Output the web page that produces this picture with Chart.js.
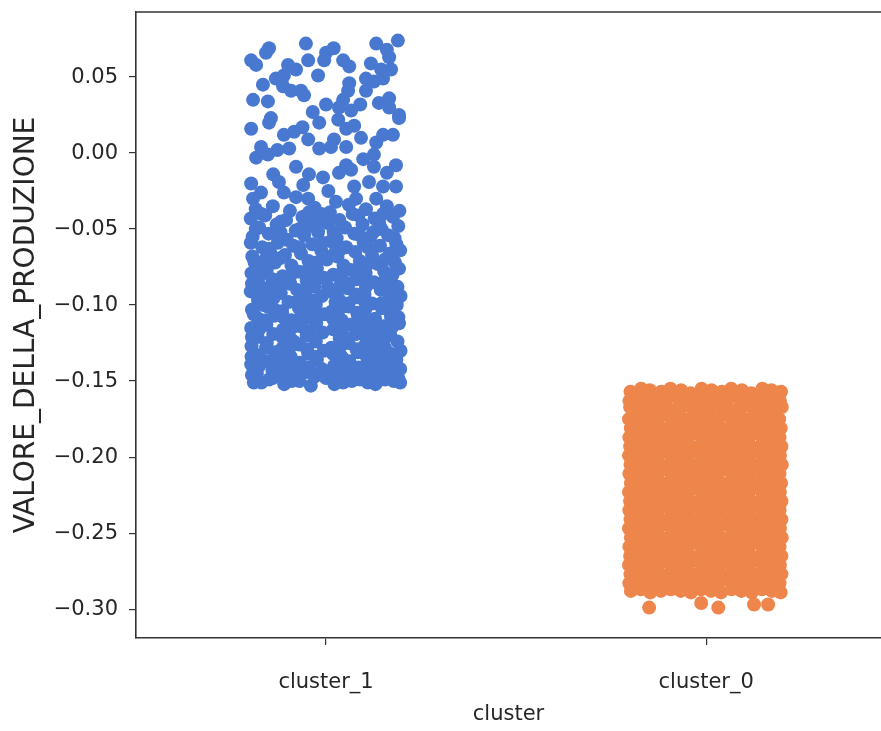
<!DOCTYPE html>
<html>
<head>
<meta charset="utf-8">
<script src="https://cdn.jsdelivr.net/npm/chart.js@4.4.1/dist/chart.umd.min.js"></script>
<style>
  html, body { margin: 0; padding: 0; background: #fff; }
  canvas { display: block; }
</style>
</head>
<body>
<canvas id="chart" width="881" height="731"></canvas>
<script>
// strip plot: production value per cluster, each point = [jitter, value]
const categories = ['cluster_1', 'cluster_0'];
const yTicks = [-0.30, -0.25, -0.20, -0.15, -0.10, -0.05, 0.00, 0.05];
const seriesColors = ['#4878d0', '#ee854a'];

const cluster1Points = [
  [-0.150, 0.069], [-0.158, 0.066], [-0.197, 0.061], [-0.184, 0.058], [-0.053, 0.072], [-0.047, 0.061], [0.000, 0.066], [-0.005, 0.061],
  [-0.021, 0.051], [-0.079, 0.055], [0.045, 0.061], [0.061, 0.057], [0.132, 0.072], [0.189, 0.074], [0.166, 0.063], [0.118, 0.059],
  [0.145, 0.055], [0.171, 0.055], [0.105, 0.049], [0.126, 0.047], [0.150, 0.049], [-0.166, 0.045], [-0.132, 0.049], [-0.111, 0.051],
  [-0.113, 0.044], [-0.092, 0.041], [-0.066, 0.041], [-0.058, 0.038], [0.061, 0.046], [0.058, 0.041], [0.045, 0.035], [0.105, 0.041],
  [-0.192, 0.035], [-0.153, 0.034], [0.000, 0.032], [0.034, 0.030], [0.066, 0.028], [0.139, 0.033], [0.166, 0.036], [0.166, 0.030],
  [0.192, 0.025], [-0.145, 0.023], [-0.197, 0.016], [-0.150, 0.020], [-0.171, 0.004], [-0.184, -0.003], [-0.153, -0.001], [-0.111, 0.012],
  [-0.084, 0.014], [-0.097, 0.003], [-0.047, 0.009], [-0.018, 0.020], [-0.018, 0.003], [0.013, 0.004], [0.032, 0.022], [0.053, 0.016],
  [0.074, 0.018], [0.053, 0.004], [0.053, -0.008], [0.066, -0.011], [0.034, -0.013], [0.132, 0.007], [0.150, 0.012], [0.176, 0.012],
  [0.192, 0.023], [0.126, -0.001], [0.126, -0.009], [0.184, -0.008], [-0.079, -0.009], [-0.045, -0.014], [-0.008, -0.016], [-0.139, -0.014],
  [-0.124, -0.019], [-0.197, -0.020], [-0.171, -0.026], [-0.192, -0.030], [-0.111, -0.026], [-0.079, -0.029], [-0.047, -0.030], [0.074, -0.022],
  [0.079, -0.030], [0.113, -0.019], [0.150, -0.022], [0.184, -0.022], [0.132, -0.030], [0.026, -0.032], [-0.062, 0.017], [0.092, 0.010],
  [0.098, -0.004], [-0.128, 0.002], [0.160, -0.013], [-0.060, -0.021], [0.006, -0.025], [0.021, 0.009], [-0.035, 0.027], [0.090, 0.032],
  [-0.100, 0.058], [0.020, 0.069], [0.160, 0.068],
  [-0.185, -0.037], [-0.140, -0.035], [-0.095, -0.038], [-0.030, -0.036], [0.010, -0.039], [0.060, -0.034], [0.105, -0.037], [0.160, -0.035], [0.193, -0.038],
  [-0.198, -0.043], [-0.160, -0.041], [-0.118, -0.045], [-0.062, -0.042], [-0.012, -0.040], [0.035, -0.044], [0.085, -0.041], [0.128, -0.043], [0.176, -0.042],
  [-0.176, -0.049], [-0.130, -0.047], [-0.080, -0.051], [-0.043, -0.048], [0.004, -0.046], [0.050, -0.049], [0.096, -0.047], [0.146, -0.050], [0.190, -0.048],
  [-0.193, -0.055], [-0.151, -0.053], [-0.103, -0.057], [-0.058, -0.054], [-0.021, -0.052], [0.028, -0.056], [0.074, -0.053], [0.117, -0.055], [0.163, -0.054],
  [-0.198, -0.059], [-0.168, -0.062], [-0.127, -0.059], [-0.086, -0.061], [-0.036, -0.060], [0.013, -0.058], [0.053, -0.062], [0.099, -0.059], [0.142, -0.061], [0.185, -0.060],
  [-0.194, -0.068], [-0.147, -0.065], [-0.108, -0.067], [-0.066, -0.066], [-0.013, -0.064], [0.030, -0.068], [0.077, -0.065], [0.121, -0.067], [0.168, -0.066], [0.195, -0.064],
  [-0.177, -0.073], [-0.134, -0.072], [-0.091, -0.074], [-0.046, -0.071], [0.002, -0.070], [0.046, -0.074], [0.089, -0.071], [0.136, -0.073], [0.181, -0.072],
  [-0.196, -0.079], [-0.156, -0.077], [-0.114, -0.081], [-0.071, -0.078], [-0.024, -0.076], [0.019, -0.080], [0.066, -0.077], [0.104, -0.079], [0.153, -0.078], [0.192, -0.076],
  [-0.181, -0.085], [-0.141, -0.083], [-0.094, -0.086], [-0.051, -0.084], [-0.006, -0.082], [0.039, -0.086], [0.081, -0.083], [0.126, -0.085], [0.170, -0.084],
  [-0.198, -0.091], [-0.161, -0.089], [-0.119, -0.092], [-0.076, -0.090], [-0.031, -0.088], [0.011, -0.091], [0.057, -0.089], [0.101, -0.093], [0.144, -0.090], [0.188, -0.088],
  [-0.179, -0.097], [-0.137, -0.095], [-0.099, -0.098], [-0.054, -0.096], [-0.011, -0.094], [0.036, -0.097], [0.077, -0.095], [0.121, -0.099], [0.166, -0.096], [0.196, -0.094],
  [-0.195, -0.103], [-0.154, -0.101], [-0.116, -0.104], [-0.071, -0.102], [-0.027, -0.100], [0.016, -0.104], [0.059, -0.101], [0.103, -0.103], [0.147, -0.102], [0.186, -0.100],
  [-0.178, -0.109], [-0.136, -0.107], [-0.091, -0.110], [-0.049, -0.108], [-0.004, -0.106], [0.041, -0.110], [0.084, -0.107], [0.129, -0.109], [0.171, -0.108],
  [-0.197, -0.115], [-0.157, -0.113], [-0.113, -0.116], [-0.067, -0.114], [-0.026, -0.112], [0.019, -0.116], [0.063, -0.113], [0.107, -0.115], [0.151, -0.114], [0.192, -0.112],
  [-0.180, -0.121], [-0.139, -0.119], [-0.094, -0.122], [-0.051, -0.120], [-0.009, -0.118], [0.036, -0.122], [0.079, -0.119], [0.124, -0.121], [0.169, -0.120],
  [-0.196, -0.127], [-0.156, -0.125], [-0.114, -0.128], [-0.071, -0.126], [-0.027, -0.124], [0.014, -0.128], [0.059, -0.125], [0.101, -0.127], [0.146, -0.126], [0.188, -0.124],
  [-0.178, -0.133], [-0.134, -0.131], [-0.093, -0.134], [-0.047, -0.132], [-0.006, -0.130], [0.041, -0.134], [0.083, -0.131], [0.127, -0.133], [0.170, -0.132], [0.196, -0.130],
  [-0.197, -0.139], [-0.154, -0.137], [-0.111, -0.140], [-0.069, -0.138], [-0.024, -0.136], [0.021, -0.140], [0.061, -0.137], [0.106, -0.139], [0.151, -0.138], [0.185, -0.136],
  [-0.182, -0.145], [-0.141, -0.143], [-0.096, -0.146], [-0.052, -0.144], [-0.011, -0.142], [0.034, -0.146], [0.079, -0.143], [0.121, -0.145], [0.165, -0.144], [0.195, -0.142],
  [-0.190, -0.151], [-0.150, -0.149], [-0.110, -0.152], [-0.070, -0.150], [-0.040, -0.153], [0.000, -0.148], [0.045, -0.151], [0.090, -0.149], [0.130, -0.152], [0.178, -0.150],
  [-0.160, -0.070], [0.005, -0.088], [0.150, -0.117], [-0.120, -0.130], [0.060, -0.140], [-0.030, -0.105], [0.100, -0.082], [-0.165, -0.100],
  [0.175, -0.095], [-0.070, -0.062], [0.125, -0.052], [-0.005, -0.068], [0.040, -0.118], [-0.140, -0.148], [0.110, -0.146], [-0.085, -0.124],
  [0.155, -0.128], [-0.185, -0.118], [0.025, -0.098], [-0.045, -0.086],
  [-0.170, -0.040], [-0.105, -0.044], [-0.045, -0.039], [0.020, -0.052], [0.070, -0.040], [0.140, -0.046], [-0.150, -0.063], [-0.070, -0.050],
  [0.110, -0.062], [0.180, -0.056], [-0.185, -0.050], [-0.010, -0.059], [0.040, -0.063], [0.150, -0.040], [-0.120, -0.052], [0.088, -0.054],
  [-0.025, -0.045], [0.190, -0.064],
  [-0.188, -0.072], [-0.120, -0.069], [-0.025, -0.072], [0.022, -0.066], [0.110, -0.073], [0.155, -0.070],
  [-0.175, -0.081], [-0.092, -0.080], [-0.048, -0.077], [0.042, -0.079], [0.085, -0.077], [0.175, -0.080],
  [-0.195, -0.086], [-0.118, -0.085], [-0.028, -0.084], [0.060, -0.086], [0.105, -0.088], [0.150, -0.085],
  [-0.178, -0.093], [-0.140, -0.091], [-0.055, -0.092], [0.033, -0.090], [0.080, -0.093], [0.168, -0.091],
  [-0.160, -0.097], [-0.078, -0.098], [-0.032, -0.097], [0.058, -0.099], [0.100, -0.097], [0.145, -0.099],
  [-0.190, -0.106], [-0.135, -0.103], [-0.050, -0.104], [0.038, -0.102], [0.082, -0.105], [0.168, -0.104],
  [-0.158, -0.110], [-0.112, -0.108], [-0.070, -0.109], [0.018, -0.109], [0.105, -0.111], [0.190, -0.108],
  [-0.176, -0.116], [-0.090, -0.115], [-0.048, -0.117], [0.085, -0.115], [0.128, -0.117], [0.172, -0.115],
  [-0.195, -0.121], [-0.115, -0.121], [-0.030, -0.121], [0.058, -0.122], [0.102, -0.120], [0.150, -0.123],
  [-0.158, -0.128], [-0.092, -0.127], [-0.050, -0.129], [0.038, -0.127], [0.080, -0.129], [0.125, -0.127],
  [-0.196, -0.134], [-0.113, -0.133], [-0.028, -0.134], [0.018, -0.132], [0.105, -0.133], [0.150, -0.135],
  [-0.176, -0.140], [-0.133, -0.139], [-0.090, -0.138], [-0.046, -0.141], [0.042, -0.139], [0.085, -0.141], [0.128, -0.139], [0.172, -0.140],
  [-0.195, -0.146], [-0.118, -0.146], [-0.072, -0.145], [-0.030, -0.147], [0.015, -0.145], [0.058, -0.147], [0.100, -0.146], [0.145, -0.145], [0.190, -0.148],
  [-0.170, -0.151], [-0.090, -0.150], [0.022, -0.152], [0.068, -0.150], [0.110, -0.151], [0.155, -0.149], [0.195, -0.151]
];

const cluster0Points = [
  [-0.199, -0.157], [-0.171, -0.155], [-0.148, -0.156], [-0.118, -0.157], [-0.094, -0.155], [-0.066, -0.156], [-0.041, -0.158], [-0.012, -0.155],
  [0.014, -0.156], [0.041, -0.157], [0.066, -0.155], [0.094, -0.156], [0.119, -0.158], [0.148, -0.155], [0.172, -0.156], [0.197, -0.157],
  [-0.202, -0.163], [-0.179, -0.161], [-0.154, -0.162], [-0.126, -0.163], [-0.101, -0.161], [-0.072, -0.162], [-0.048, -0.164], [-0.019, -0.161],
  [0.006, -0.162], [0.034, -0.163], [0.059, -0.161], [0.088, -0.162], [0.112, -0.164], [0.141, -0.161], [0.166, -0.162], [0.194, -0.163],
  [-0.200, -0.167], [-0.174, -0.169], [-0.146, -0.168], [-0.121, -0.167], [-0.092, -0.169], [-0.068, -0.168], [-0.039, -0.167], [-0.014, -0.169],
  [0.012, -0.168], [0.040, -0.167], [0.068, -0.169], [0.092, -0.168], [0.121, -0.167], [0.146, -0.169], [0.174, -0.168], [0.199, -0.167],
  [-0.203, -0.175], [-0.181, -0.173], [-0.152, -0.174], [-0.128, -0.175], [-0.099, -0.173], [-0.074, -0.174], [-0.046, -0.175], [-0.021, -0.173],
  [0.008, -0.174], [0.032, -0.175], [0.061, -0.173], [0.086, -0.174], [0.114, -0.175], [0.139, -0.173], [0.168, -0.174], [0.192, -0.175],
  [-0.198, -0.181], [-0.172, -0.179], [-0.147, -0.180], [-0.119, -0.181], [-0.093, -0.179], [-0.067, -0.180], [-0.040, -0.181], [-0.013, -0.179],
  [0.013, -0.180], [0.039, -0.181], [0.067, -0.179], [0.093, -0.180], [0.120, -0.181], [0.147, -0.179], [0.173, -0.180], [0.196, -0.181],
  [-0.202, -0.187], [-0.180, -0.185], [-0.153, -0.186], [-0.127, -0.187], [-0.100, -0.185], [-0.073, -0.186], [-0.047, -0.187], [-0.020, -0.185],
  [0.007, -0.186], [0.033, -0.187], [0.060, -0.185], [0.087, -0.186], [0.113, -0.187], [0.140, -0.185], [0.167, -0.186], [0.193, -0.187],
  [-0.200, -0.193], [-0.173, -0.191], [-0.146, -0.192], [-0.120, -0.193], [-0.094, -0.191], [-0.066, -0.192], [-0.041, -0.193], [-0.012, -0.191],
  [0.014, -0.192], [0.040, -0.193], [0.066, -0.191], [0.094, -0.192], [0.119, -0.193], [0.148, -0.191], [0.172, -0.192], [0.198, -0.193],
  [-0.203, -0.199], [-0.179, -0.197], [-0.154, -0.198], [-0.126, -0.199], [-0.101, -0.197], [-0.072, -0.198], [-0.048, -0.199], [-0.019, -0.197],
  [0.006, -0.198], [0.034, -0.199], [0.059, -0.197], [0.088, -0.198], [0.112, -0.199], [0.141, -0.197], [0.166, -0.198], [0.194, -0.199],
  [-0.199, -0.205], [-0.174, -0.203], [-0.147, -0.204], [-0.121, -0.205], [-0.092, -0.203], [-0.068, -0.204], [-0.039, -0.205], [-0.014, -0.203],
  [0.012, -0.204], [0.040, -0.205], [0.068, -0.203], [0.092, -0.204], [0.121, -0.205], [0.146, -0.203], [0.174, -0.204], [0.199, -0.205],
  [-0.202, -0.211], [-0.181, -0.209], [-0.152, -0.210], [-0.128, -0.211], [-0.099, -0.209], [-0.074, -0.210], [-0.046, -0.211], [-0.021, -0.209],
  [0.008, -0.210], [0.032, -0.211], [0.061, -0.209], [0.086, -0.210], [0.114, -0.211], [0.139, -0.209], [0.168, -0.210], [0.193, -0.211],
  [-0.198, -0.217], [-0.172, -0.215], [-0.147, -0.216], [-0.119, -0.217], [-0.093, -0.215], [-0.067, -0.216], [-0.040, -0.217], [-0.013, -0.215],
  [0.013, -0.216], [0.039, -0.217], [0.067, -0.215], [0.093, -0.216], [0.120, -0.217], [0.147, -0.215], [0.173, -0.216], [0.197, -0.217],
  [-0.203, -0.223], [-0.180, -0.221], [-0.153, -0.222], [-0.127, -0.223], [-0.100, -0.221], [-0.073, -0.222], [-0.047, -0.223], [-0.020, -0.221],
  [0.007, -0.222], [0.033, -0.223], [0.060, -0.221], [0.087, -0.222], [0.113, -0.223], [0.140, -0.221], [0.167, -0.222], [0.194, -0.223],
  [-0.200, -0.229], [-0.173, -0.227], [-0.146, -0.228], [-0.120, -0.229], [-0.094, -0.227], [-0.066, -0.228], [-0.041, -0.229], [-0.012, -0.227],
  [0.014, -0.228], [0.040, -0.229], [0.066, -0.227], [0.094, -0.228], [0.119, -0.229], [0.148, -0.227], [0.172, -0.228], [0.198, -0.229],
  [-0.202, -0.235], [-0.179, -0.233], [-0.154, -0.234], [-0.126, -0.235], [-0.101, -0.233], [-0.072, -0.234], [-0.048, -0.235], [-0.019, -0.233],
  [0.006, -0.234], [0.034, -0.235], [0.059, -0.233], [0.088, -0.234], [0.112, -0.235], [0.141, -0.233], [0.166, -0.234], [0.193, -0.235],
  [-0.199, -0.241], [-0.174, -0.239], [-0.147, -0.240], [-0.121, -0.241], [-0.092, -0.239], [-0.068, -0.240], [-0.039, -0.241], [-0.014, -0.239],
  [0.012, -0.240], [0.040, -0.241], [0.068, -0.239], [0.092, -0.240], [0.121, -0.241], [0.146, -0.239], [0.174, -0.240], [0.198, -0.241],
  [-0.203, -0.247], [-0.181, -0.245], [-0.152, -0.246], [-0.128, -0.247], [-0.099, -0.245], [-0.074, -0.246], [-0.046, -0.247], [-0.021, -0.245],
  [0.008, -0.246], [0.032, -0.247], [0.061, -0.245], [0.086, -0.246], [0.114, -0.247], [0.139, -0.245], [0.168, -0.246], [0.194, -0.247],
  [-0.198, -0.253], [-0.172, -0.251], [-0.147, -0.252], [-0.119, -0.253], [-0.093, -0.251], [-0.067, -0.252], [-0.040, -0.253], [-0.013, -0.251],
  [0.013, -0.252], [0.039, -0.253], [0.067, -0.251], [0.093, -0.252], [0.120, -0.253], [0.147, -0.251], [0.173, -0.252], [0.199, -0.253],
  [-0.202, -0.259], [-0.180, -0.257], [-0.153, -0.258], [-0.127, -0.259], [-0.100, -0.257], [-0.073, -0.258], [-0.047, -0.259], [-0.020, -0.257],
  [0.007, -0.258], [0.033, -0.259], [0.060, -0.257], [0.087, -0.258], [0.113, -0.259], [0.140, -0.257], [0.167, -0.258], [0.193, -0.259],
  [-0.200, -0.265], [-0.173, -0.263], [-0.146, -0.264], [-0.120, -0.265], [-0.094, -0.263], [-0.066, -0.264], [-0.041, -0.265], [-0.012, -0.263],
  [0.014, -0.264], [0.040, -0.265], [0.066, -0.263], [0.094, -0.264], [0.119, -0.265], [0.148, -0.263], [0.172, -0.264], [0.198, -0.265],
  [-0.203, -0.271], [-0.179, -0.269], [-0.154, -0.270], [-0.126, -0.271], [-0.101, -0.269], [-0.072, -0.270], [-0.048, -0.271], [-0.019, -0.269],
  [0.006, -0.270], [0.034, -0.271], [0.059, -0.269], [0.088, -0.270], [0.112, -0.271], [0.141, -0.269], [0.166, -0.270], [0.194, -0.271],
  [-0.199, -0.277], [-0.174, -0.275], [-0.147, -0.276], [-0.121, -0.277], [-0.092, -0.275], [-0.068, -0.276], [-0.039, -0.277], [-0.014, -0.275],
  [0.012, -0.276], [0.040, -0.277], [0.068, -0.275], [0.092, -0.276], [0.121, -0.277], [0.146, -0.275], [0.174, -0.276], [0.198, -0.277],
  [-0.202, -0.283], [-0.181, -0.281], [-0.152, -0.282], [-0.128, -0.283], [-0.099, -0.281], [-0.074, -0.282], [-0.046, -0.283], [-0.021, -0.281],
  [0.008, -0.282], [0.032, -0.283], [0.061, -0.281], [0.086, -0.282], [0.114, -0.283], [0.139, -0.281], [0.168, -0.282], [0.193, -0.283],
  [-0.198, -0.288], [-0.172, -0.287], [-0.147, -0.289], [-0.119, -0.288], [-0.093, -0.287], [-0.067, -0.288], [-0.040, -0.289], [-0.013, -0.287],
  [0.013, -0.288], [0.039, -0.289], [0.067, -0.287], [0.093, -0.288], [0.120, -0.289], [0.147, -0.287], [0.173, -0.288], [0.196, -0.289],
  [-0.150, -0.299], [-0.013, -0.296], [0.032, -0.299], [0.126, -0.297], [0.163, -0.297]
];

const seriesPoints = [cluster1Points, cluster0Points];

const textColor = '#262626';
const spineColor = '#333333';
const tickFont = { family: 'DejaVu Sans', size: 21 };

// matplotlib-style top spine (right spine falls off the canvas)
const topSpine = {
  id: 'topSpine',
  afterDraw(chart) {
    const { ctx, chartArea } = chart;
    ctx.save();
    ctx.strokeStyle = spineColor;
    ctx.lineWidth = 1.6;
    ctx.beginPath();
    ctx.moveTo(chartArea.left, chartArea.top);
    ctx.lineTo(chartArea.right, chartArea.top);
    ctx.stroke();
    ctx.restore();
  }
};

// keep the axes from reserving room for tick labels at the plot edges
function noEdgePadding(s) {
  s.paddingLeft = 0;
  s.paddingRight = 0;
  s.paddingTop = 0;
  s.paddingBottom = 0;
}

const datasets = categories.map((name, i) => ({
  label: name,
  data: seriesPoints[i].map(p => ({ x: i + p[0], y: p[1] })),
  backgroundColor: seriesColors[i],
  borderWidth: 0,
  pointRadius: 7,
  pointHoverRadius: 7
}));

new Chart(document.getElementById('chart'), {
  type: 'scatter',
  data: { datasets: datasets },
  options: {
    responsive: false,
    animation: false,
    events: [],
    layout: { autoPadding: false, padding: { top: 12, right: 0, left: 0, bottom: 0 } },
    plugins: {
      legend: { display: false },
      tooltip: { enabled: false }
    },
    scales: {
      x: {
        type: 'linear',
        min: -0.5,
        max: 1.46,
        afterBuildTicks: s => { s.ticks = categories.map((c, i) => ({ value: i })); },
        afterFit: s => {
          s.height = 93;
          noEdgePadding(s);
        },
        ticks: {
          callback: v => categories[v],
          font: tickFont,
          color: textColor,
          padding: 25,
          maxRotation: 0,
          autoSkip: false
        },
        grid: { drawOnChartArea: false, drawTicks: true, tickLength: 7, color: spineColor, lineWidth: 1.2 },
        border: { display: true, color: spineColor, width: 1.6 },
        title: {
          display: true,
          text: 'cluster',
          font: tickFont,
          color: textColor,
          padding: { top: 0, bottom: 4 }
        }
      },
      y: {
        type: 'linear',
        min: -0.319,
        max: 0.0928,
        afterBuildTicks: s => { s.ticks = yTicks.map(v => ({ value: v })); },
        afterFit: s => {
          s.width = 136;
          noEdgePadding(s);
        },
        ticks: {
          callback: v => v.toFixed(2).replace('-', '\u2212'),
          font: tickFont,
          color: textColor,
          padding: 11
        },
        grid: { drawOnChartArea: false, drawTicks: true, tickLength: 7, color: spineColor, lineWidth: 1.2 },
        border: { display: true, color: spineColor, width: 1.6 },
        title: {
          display: true,
          text: 'VALORE_DELLA_PRODUZIONE',
          font: { family: 'DejaVu Sans', size: 28 },
          color: textColor,
          padding: { top: 10, bottom: 0 }
        }
      }
    }
  },
  plugins: [topSpine]
});
</script>
</body>
</html>
